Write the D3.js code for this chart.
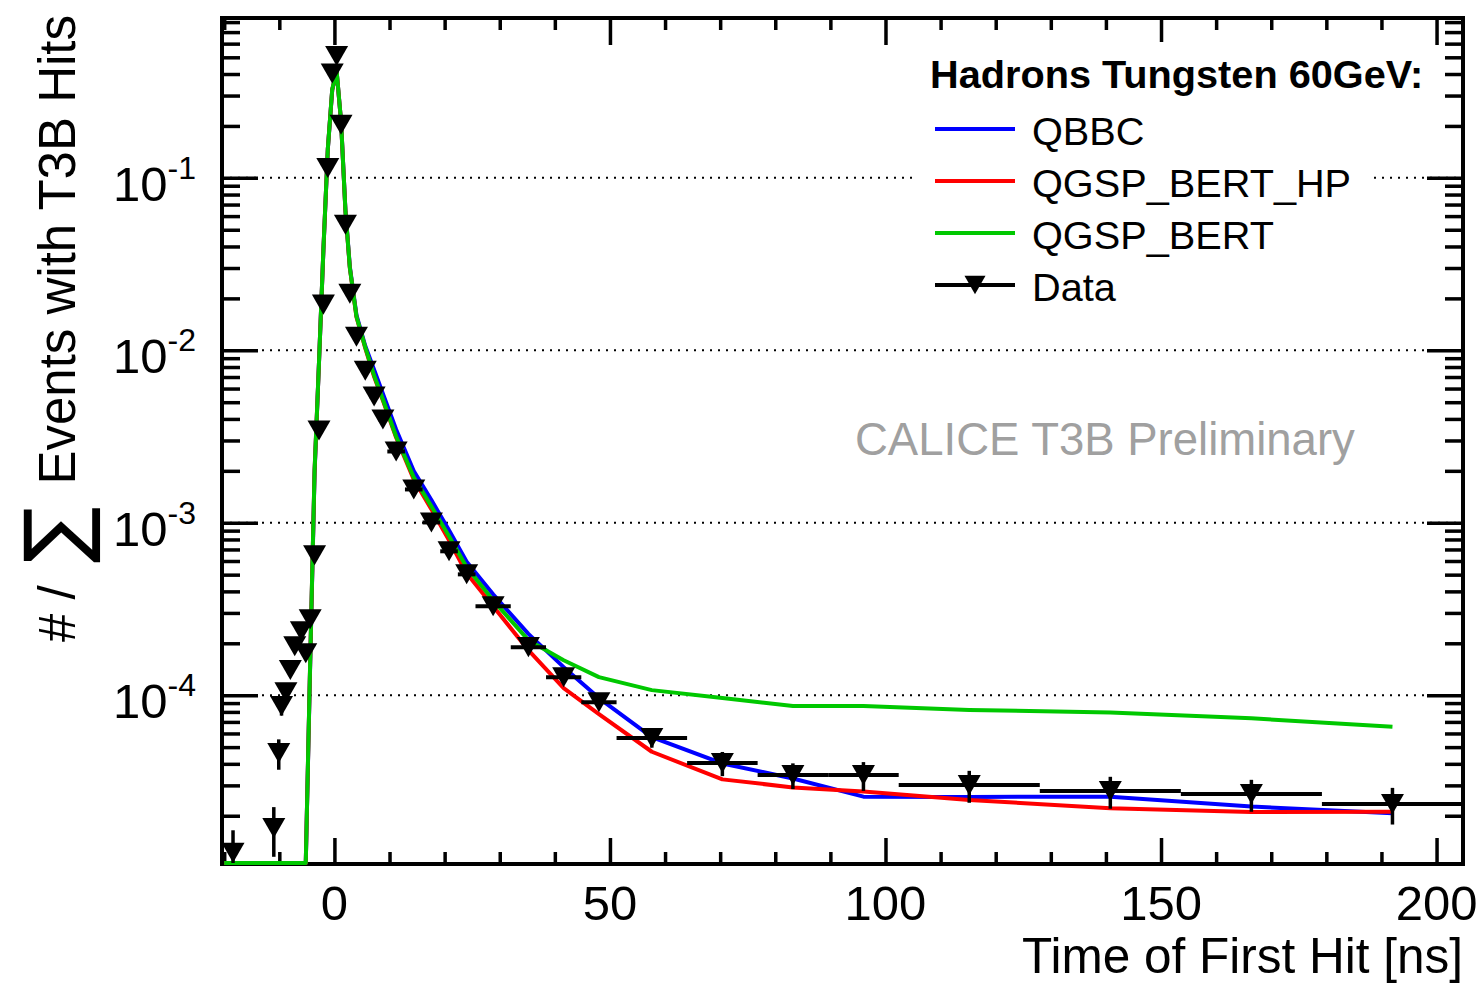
<!DOCTYPE html>
<html><head><meta charset="utf-8">
<script src="https://cdn.jsdelivr.net/npm/d3@7"></script>
<style>
body{margin:0;background:#fff;}
svg{display:block;}
text{font-family:"Liberation Sans",Arial,Helvetica,sans-serif;fill:#000;}
</style>
</head><body>
<svg id="c" width="1483" height="984"></svg>
<script>
// ---------------- data ----------------
const xTickLabels = [0, 50, 100, 150, 200];
const yTickExponents = [-1, -2, -3, -4];
const seriesNames = ["QBBC", "QGSP_BERT_HP", "QGSP_BERT", "Data"];
const legendTitle = "Hadrons Tungsten 60GeV:";

// measured data (bin centre [ns], fraction, relative error, bin width [ns])
const dataTime = [-18.4, -11.0, -10.1, -9.6, -8.8, -8.0, -7.2, -6.0, -5.2, -4.4,
  -3.6, -2.8, -2.0, -1.2, -0.4, 0.4, 1.2, 2.0, 2.8,
  4.0, 5.6, 7.2, 8.8,
  11.2, 14.4, 17.6, 20.8, 24.0,
  28.8, 35.2, 41.6, 48.0,
  57.6, 70.4, 83.2, 96.0,
  115.2, 140.8, 166.4, 192.0];
const dataValue = [1.22e-5, 1.70e-5, 4.62e-5, 8.65e-5, 1.04e-4, 1.40e-4, 1.92e-4, 2.35e-4, 1.75e-4, 2.76e-4,
  6.47e-4, 3.43e-3, 1.84e-2, 0.114, 0.403, 0.508, 0.203, 0.0534, 0.0213,
  0.0120, 0.00762, 0.00540, 0.00397,
  0.00259, 0.00156, 0.001004, 6.83e-4, 5.02e-4,
  3.28e-4, 1.90e-4, 1.27e-4, 9.1e-5,
  5.64e-5, 4.04e-5, 3.44e-5, 3.44e-5,
  3.01e-5, 2.78e-5, 2.67e-5, 2.34e-5];
const dataRelErr = [0.35, 0.32, 0.2, 0.12, 0.1, 0.08, 0.07, 0.06, 0.07, 0.06,
  0.04, 0.02, 0.01, 0.005, 0.003, 0.003, 0.005, 0.01, 0.015,
  0.015, 0.02, 0.02, 0.02,
  0.02, 0.02, 0.025, 0.03, 0.03,
  0.04, 0.05, 0.06, 0.07,
  0.12, 0.16, 0.17, 0.19,
  0.21, 0.21, 0.21, 0.24];
const dataBinWidth = [0.8, 0.8, 0.8, 0.8, 0.8, 0.8, 0.8, 0.8, 0.8, 0.8,
  0.8, 0.8, 0.8, 0.8, 0.8, 0.8, 0.8, 0.8, 0.8,
  1.6, 1.6, 1.6, 1.6,
  3.2, 3.2, 3.2, 3.2, 3.2,
  6.4, 6.4, 6.4, 6.4,
  12.8, 12.8, 12.8, 12.8,
  25.6, 25.6, 25.6, 25.6];

// simulations (bin centre [ns], fraction)
const simTime = [-20.0, -5.2, -4.4, -3.6, -2.8, -2.0, -1.2, -0.4, 0.4, 1.2, 2.0, 2.8,
  4.0, 5.6, 7.2, 8.8, 11.2, 14.4, 17.6, 20.8, 24.0,
  28.8, 35.2, 41.6, 48.0, 57.6, 70.4, 83.2, 96.0, 115.2, 140.8, 166.4, 192.0];
const qbbc = [0, 0, 1.5e-4, 1.95e-3, 8.5e-3, 0.038, 0.146, 0.323, 0.415, 0.213, 0.065, 0.0305,
  0.016, 0.0106, 0.00773, 0.00561, 0.003473, 0.001995, 0.001353, 9.04e-4, 5.94e-4,
  3.85e-4, 2.267e-4, 1.454e-4, 9.62e-5, 5.72e-5, 4.02e-5, 3.29e-5, 2.58e-5, 2.57e-5, 2.58e-5, 2.26e-5, 2.07e-5];
const qgspBertHp = [0, 0, 1.55e-4, 2.0e-3, 8.5e-3, 0.0382, 0.147, 0.324, 0.416, 0.213, 0.064, 0.030,
  0.0156, 0.0103, 0.00704, 0.00511, 0.003123, 0.001783, 0.001196, 7.91e-4, 5.09e-4,
  3.28e-4, 1.824e-4, 1.099e-4, 7.77e-5, 4.70e-5, 3.25e-5, 2.92e-5, 2.76e-5, 2.47e-5, 2.21e-5, 2.10e-5, 2.11e-5];
const qgspBert = [0, 0, 1.56e-4, 2.01e-3, 8.5e-3, 0.0383, 0.147, 0.325, 0.417, 0.214, 0.0644, 0.0301,
  0.0157, 0.0104, 0.00714, 0.00518, 0.003164, 0.001832, 0.001245, 8.34e-4, 5.52e-4,
  3.55e-4, 2.085e-4, 1.596e-4, 1.273e-4, 1.070e-4, 9.62e-5, 8.65e-5, 8.65e-5, 8.20e-5, 7.95e-5, 7.34e-5, 6.56e-5];

// ---------------- layout ----------------
const L = 222, R = 1463, T = 18, B = 864;
const yMin = 1.05e-5, yMax = 0.845;
const colors = {QBBC: "#0000ff", QGSP_BERT_HP: "#ff0000", QGSP_BERT: "#00c800"};

const svg = d3.select("#c");
const x = d3.scaleLinear().domain([-20.4, 204.8]).range([L, R]);
const y = d3.scaleLog().domain([yMin, yMax]).range([B, T]);
const yc = v => (v > yMin ? y(v) : y(yMin) - 1);

const defs = svg.append("defs");
defs.append("clipPath").attr("id", "plotwide")
  .append("rect").attr("x", L).attr("y", T).attr("width", R - L).attr("height", B - T + 3);

// grid (dotted) at decades
const decades = yTickExponents.map(e => Math.pow(10, e));
svg.append("g").selectAll("line").data(decades).join("line")
  .attr("x1", L).attr("x2", R).attr("y1", d => y(d)).attr("y2", d => y(d))
  .attr("stroke", "#000").attr("stroke-width", 2).attr("stroke-dasharray", "2,6");

// ---------------- axes / frame ----------------
const axG = svg.append("g");
const xMajor = xTickLabels;
const xMinor = d3.range(-20, 201, 10).filter(v => v % 50 !== 0);
const yAll = y.ticks();
const yMajorT = yAll.filter(v => Math.abs(Math.log10(v) - Math.round(Math.log10(v))) < 1e-6);
const yMinorT = yAll.filter(v => !yMajorT.includes(v)).concat([0.2,0.3,0.4,0.5,0.6,0.7,0.8].filter(v => !yAll.includes(v) && v < yMax));

function styleAxis(g) {
  g.select(".domain").remove();
  g.selectAll(".tick line").attr("stroke", "#000").attr("stroke-width", 3.5);
  g.selectAll(".tick text").remove();
}
axG.append("g").attr("transform", `translate(0,${B})`).call(d3.axisBottom(x).tickValues(xMajor).tickSize(-26)).call(styleAxis);
axG.append("g").attr("transform", `translate(0,${B})`).call(d3.axisBottom(x).tickValues(xMinor).tickSize(-12)).call(styleAxis);
axG.append("g").attr("transform", `translate(0,${T})`).call(d3.axisTop(x).tickValues(xMajor).tickSize(-27)).call(styleAxis);
axG.append("g").attr("transform", `translate(0,${T})`).call(d3.axisTop(x).tickValues(xMinor).tickSize(-12)).call(styleAxis);
axG.append("g").attr("transform", `translate(${L},0)`).call(d3.axisLeft(y).tickValues(yMajorT).tickSize(-36)).call(styleAxis);
axG.append("g").attr("transform", `translate(${L},0)`).call(d3.axisLeft(y).tickValues(yMinorT).tickSize(-18)).call(styleAxis);
axG.append("g").attr("transform", `translate(${R},0)`).call(d3.axisRight(y).tickValues(yMajorT).tickSize(-36)).call(styleAxis);
axG.append("g").attr("transform", `translate(${R},0)`).call(d3.axisRight(y).tickValues(yMinorT).tickSize(-18)).call(styleAxis);

svg.append("rect").attr("x", L).attr("y", T).attr("width", R - L).attr("height", B - T)
  .attr("fill", "none").attr("stroke", "#000").attr("stroke-width", 4);

// simulation lines (drawn over the frame, as in the original)
const plot = svg.append("g").attr("clip-path", "url(#plotwide)");
const line = d3.line().x(d => x(d[0])).y(d => yc(d[1]));
[["QBBC", qbbc], ["QGSP_BERT_HP", qgspBertHp], ["QGSP_BERT", qgspBert]].forEach(([name, vals]) => {
  plot.append("path").datum(simTime.map((t, i) => [t, vals[i]]))
    .attr("d", line).attr("fill", "none").attr("stroke", colors[name])
    .attr("stroke-width", 4).attr("stroke-linejoin", "round");
});

// data points
const pts = dataTime.map((t, i) => ({t, v: dataValue[i], e: dataRelErr[i], w: dataBinWidth[i]}));
const dg = svg.append("g").attr("clip-path", "url(#plotwide)");
dg.selectAll("line.xe").data(pts).join("line").attr("class", "xe")
  .attr("x1", d => x(d.t - d.w / 2)).attr("x2", d => x(d.t + d.w / 2))
  .attr("y1", d => yc(d.v)).attr("y2", d => yc(d.v))
  .attr("stroke", "#000").attr("stroke-width", 4);
dg.selectAll("line.ye").data(pts).join("line").attr("class", "ye")
  .attr("x1", d => x(d.t)).attr("x2", d => x(d.t))
  .attr("y1", d => yc(d.v * (1 - d.e))).attr("y2", d => yc(d.v * (1 + d.e)))
  .attr("stroke", "#000").attr("stroke-width", 3.5);
const triDown = {draw(ctx, size) {
  const hw = Math.sqrt(size) / 2, hh = hw * 0.87;
  ctx.moveTo(-hw, -hh); ctx.lineTo(hw, -hh); ctx.lineTo(0, hh); ctx.closePath();
}};
const marker = d3.symbol().type(triDown).size(23 * 23);
dg.selectAll("path.m").data(pts).join("path").attr("class", "m")
  .attr("transform", d => `translate(${x(d.t)},${yc(d.v)})`)
  .attr("d", marker).attr("fill", "#000");

// tick labels
svg.append("g").selectAll("text").data(xTickLabels).join("text")
  .attr("x", d => x(d)).attr("y", 920).attr("text-anchor", "middle")
  .attr("font-size", 49).text(d => d);
const yl = svg.append("g").selectAll("text").data(yTickExponents).join("text")
  .attr("x", 196).attr("y", d => y(Math.pow(10, d)) + 23).attr("text-anchor", "end").attr("font-size", 49);
yl.append("tspan").text("10");
yl.append("tspan").attr("font-size", 32).attr("dy", -22).text(d => String(d));

// axis titles
svg.append("text").attr("x", R).attr("y", 973).attr("text-anchor", "end").attr("font-size", 49.5)
  .text("Time of First Hit [ns]");
svg.append("text").attr("transform", "translate(75,15) rotate(-90)").attr("text-anchor", "end")
  .attr("font-size", 51).text("Events with T3B Hits");
svg.append("text").attr("transform", "translate(84,535) rotate(-90)").attr("text-anchor", "middle")
  .attr("font-size", 84).style("font-family", "'DejaVu Sans',sans-serif").text("\u2211");
svg.append("text").attr("transform", "translate(75,642) rotate(-90)").attr("text-anchor", "start")
  .attr("font-size", 51).text("# /");

// preliminary label
svg.append("text").attr("x", 855).attr("y", 455).attr("font-size", 45.5).style("fill", "#a0a0a0")
  .text("CALICE T3B Preliminary");

// ---------------- legend ----------------
const lg = svg.append("g");
lg.append("rect").attr("x", 918).attr("y", 42).attr("width", 454).attr("height", 270).attr("fill", "#fff");
lg.append("text").attr("x", 930).attr("y", 88).attr("font-size", 39.7).attr("font-weight", "bold").text(legendTitle);
const rowY = d3.scalePoint().domain(seriesNames).range([129, 285]);
seriesNames.forEach(n => {
  const yy = rowY(n);
  lg.append("line").attr("x1", 935).attr("x2", 1015).attr("y1", yy).attr("y2", yy)
    .attr("stroke", colors[n] || "#000").attr("stroke-width", 4);
  if (n === "Data") {
    lg.append("path").attr("transform", `translate(975,${yy})`)
      .attr("d", d3.symbol().type(triDown).size(21 * 21)).attr("fill", "#000");
  }
  lg.append("text").attr("x", 1032).attr("y", yy + 16).attr("font-size", 39.7).text(n);
});
</script>
</body></html>
